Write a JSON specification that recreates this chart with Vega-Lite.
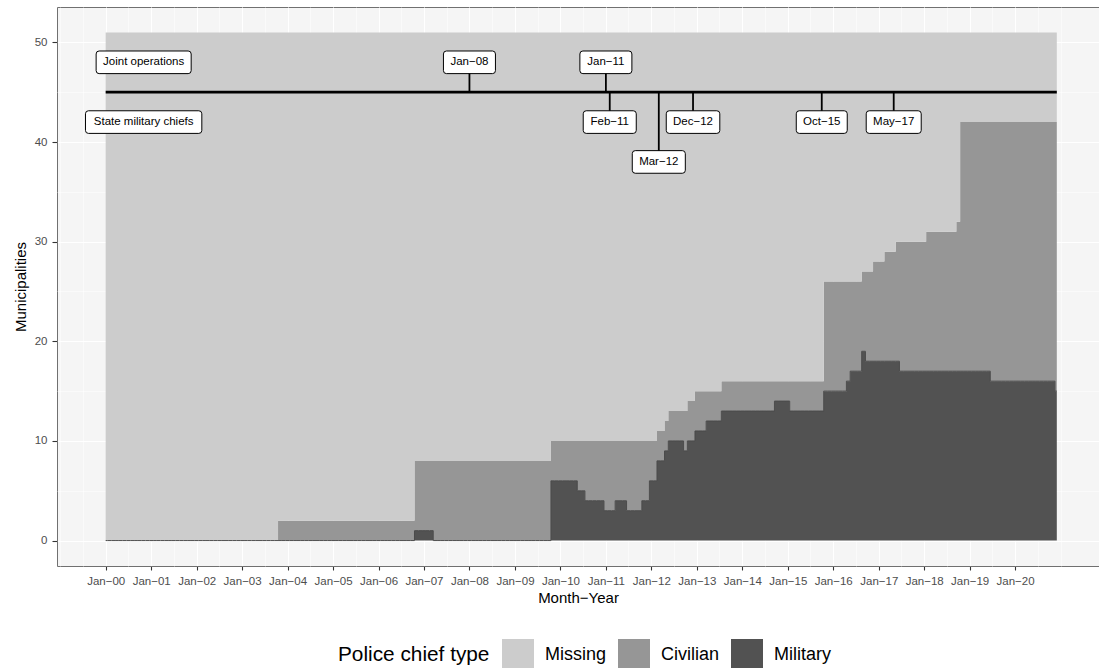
{
  "$schema": "https://vega.github.io/schema/vega-lite/v6.json",
  "width": 1042,
  "height": 559,
  "autosize": {"type": "none"},
  "padding": {"left": 57, "top": 7, "right": 0, "bottom": 102},
  "background": "white",
  "config": {
    "font": "Liberation Sans",
    "view": {"fill": "#F5F5F5", "stroke": "#707070", "strokeWidth": 1}
  },
  "datasets": {
    "chiefs": [
      {"month": "2000-01", "Missing": 51, "Civilian": 0, "Military": 0},
      {"month": "2000-02", "Missing": 51, "Civilian": 0, "Military": 0},
      {"month": "2000-03", "Missing": 51, "Civilian": 0, "Military": 0},
      {"month": "2000-04", "Missing": 51, "Civilian": 0, "Military": 0},
      {"month": "2000-05", "Missing": 51, "Civilian": 0, "Military": 0},
      {"month": "2000-06", "Missing": 51, "Civilian": 0, "Military": 0},
      {"month": "2000-07", "Missing": 51, "Civilian": 0, "Military": 0},
      {"month": "2000-08", "Missing": 51, "Civilian": 0, "Military": 0},
      {"month": "2000-09", "Missing": 51, "Civilian": 0, "Military": 0},
      {"month": "2000-10", "Missing": 51, "Civilian": 0, "Military": 0},
      {"month": "2000-11", "Missing": 51, "Civilian": 0, "Military": 0},
      {"month": "2000-12", "Missing": 51, "Civilian": 0, "Military": 0},
      {"month": "2001-01", "Missing": 51, "Civilian": 0, "Military": 0},
      {"month": "2001-02", "Missing": 51, "Civilian": 0, "Military": 0},
      {"month": "2001-03", "Missing": 51, "Civilian": 0, "Military": 0},
      {"month": "2001-04", "Missing": 51, "Civilian": 0, "Military": 0},
      {"month": "2001-05", "Missing": 51, "Civilian": 0, "Military": 0},
      {"month": "2001-06", "Missing": 51, "Civilian": 0, "Military": 0},
      {"month": "2001-07", "Missing": 51, "Civilian": 0, "Military": 0},
      {"month": "2001-08", "Missing": 51, "Civilian": 0, "Military": 0},
      {"month": "2001-09", "Missing": 51, "Civilian": 0, "Military": 0},
      {"month": "2001-10", "Missing": 51, "Civilian": 0, "Military": 0},
      {"month": "2001-11", "Missing": 51, "Civilian": 0, "Military": 0},
      {"month": "2001-12", "Missing": 51, "Civilian": 0, "Military": 0},
      {"month": "2002-01", "Missing": 51, "Civilian": 0, "Military": 0},
      {"month": "2002-02", "Missing": 51, "Civilian": 0, "Military": 0},
      {"month": "2002-03", "Missing": 51, "Civilian": 0, "Military": 0},
      {"month": "2002-04", "Missing": 51, "Civilian": 0, "Military": 0},
      {"month": "2002-05", "Missing": 51, "Civilian": 0, "Military": 0},
      {"month": "2002-06", "Missing": 51, "Civilian": 0, "Military": 0},
      {"month": "2002-07", "Missing": 51, "Civilian": 0, "Military": 0},
      {"month": "2002-08", "Missing": 51, "Civilian": 0, "Military": 0},
      {"month": "2002-09", "Missing": 51, "Civilian": 0, "Military": 0},
      {"month": "2002-10", "Missing": 51, "Civilian": 0, "Military": 0},
      {"month": "2002-11", "Missing": 51, "Civilian": 0, "Military": 0},
      {"month": "2002-12", "Missing": 51, "Civilian": 0, "Military": 0},
      {"month": "2003-01", "Missing": 51, "Civilian": 0, "Military": 0},
      {"month": "2003-02", "Missing": 51, "Civilian": 0, "Military": 0},
      {"month": "2003-03", "Missing": 51, "Civilian": 0, "Military": 0},
      {"month": "2003-04", "Missing": 51, "Civilian": 0, "Military": 0},
      {"month": "2003-05", "Missing": 51, "Civilian": 0, "Military": 0},
      {"month": "2003-06", "Missing": 51, "Civilian": 0, "Military": 0},
      {"month": "2003-07", "Missing": 51, "Civilian": 0, "Military": 0},
      {"month": "2003-08", "Missing": 51, "Civilian": 0, "Military": 0},
      {"month": "2003-09", "Missing": 51, "Civilian": 0, "Military": 0},
      {"month": "2003-10", "Missing": 51, "Civilian": 0, "Military": 0},
      {"month": "2003-11", "Missing": 49, "Civilian": 2, "Military": 0},
      {"month": "2003-12", "Missing": 49, "Civilian": 2, "Military": 0},
      {"month": "2004-01", "Missing": 49, "Civilian": 2, "Military": 0},
      {"month": "2004-02", "Missing": 49, "Civilian": 2, "Military": 0},
      {"month": "2004-03", "Missing": 49, "Civilian": 2, "Military": 0},
      {"month": "2004-04", "Missing": 49, "Civilian": 2, "Military": 0},
      {"month": "2004-05", "Missing": 49, "Civilian": 2, "Military": 0},
      {"month": "2004-06", "Missing": 49, "Civilian": 2, "Military": 0},
      {"month": "2004-07", "Missing": 49, "Civilian": 2, "Military": 0},
      {"month": "2004-08", "Missing": 49, "Civilian": 2, "Military": 0},
      {"month": "2004-09", "Missing": 49, "Civilian": 2, "Military": 0},
      {"month": "2004-10", "Missing": 49, "Civilian": 2, "Military": 0},
      {"month": "2004-11", "Missing": 49, "Civilian": 2, "Military": 0},
      {"month": "2004-12", "Missing": 49, "Civilian": 2, "Military": 0},
      {"month": "2005-01", "Missing": 49, "Civilian": 2, "Military": 0},
      {"month": "2005-02", "Missing": 49, "Civilian": 2, "Military": 0},
      {"month": "2005-03", "Missing": 49, "Civilian": 2, "Military": 0},
      {"month": "2005-04", "Missing": 49, "Civilian": 2, "Military": 0},
      {"month": "2005-05", "Missing": 49, "Civilian": 2, "Military": 0},
      {"month": "2005-06", "Missing": 49, "Civilian": 2, "Military": 0},
      {"month": "2005-07", "Missing": 49, "Civilian": 2, "Military": 0},
      {"month": "2005-08", "Missing": 49, "Civilian": 2, "Military": 0},
      {"month": "2005-09", "Missing": 49, "Civilian": 2, "Military": 0},
      {"month": "2005-10", "Missing": 49, "Civilian": 2, "Military": 0},
      {"month": "2005-11", "Missing": 49, "Civilian": 2, "Military": 0},
      {"month": "2005-12", "Missing": 49, "Civilian": 2, "Military": 0},
      {"month": "2006-01", "Missing": 49, "Civilian": 2, "Military": 0},
      {"month": "2006-02", "Missing": 49, "Civilian": 2, "Military": 0},
      {"month": "2006-03", "Missing": 49, "Civilian": 2, "Military": 0},
      {"month": "2006-04", "Missing": 49, "Civilian": 2, "Military": 0},
      {"month": "2006-05", "Missing": 49, "Civilian": 2, "Military": 0},
      {"month": "2006-06", "Missing": 49, "Civilian": 2, "Military": 0},
      {"month": "2006-07", "Missing": 49, "Civilian": 2, "Military": 0},
      {"month": "2006-08", "Missing": 49, "Civilian": 2, "Military": 0},
      {"month": "2006-09", "Missing": 49, "Civilian": 2, "Military": 0},
      {"month": "2006-10", "Missing": 49, "Civilian": 2, "Military": 0},
      {"month": "2006-11", "Missing": 43, "Civilian": 7, "Military": 1},
      {"month": "2006-12", "Missing": 43, "Civilian": 7, "Military": 1},
      {"month": "2007-01", "Missing": 43, "Civilian": 7, "Military": 1},
      {"month": "2007-02", "Missing": 43, "Civilian": 7, "Military": 1},
      {"month": "2007-03", "Missing": 43, "Civilian": 7, "Military": 1},
      {"month": "2007-04", "Missing": 43, "Civilian": 8, "Military": 0},
      {"month": "2007-05", "Missing": 43, "Civilian": 8, "Military": 0},
      {"month": "2007-06", "Missing": 43, "Civilian": 8, "Military": 0},
      {"month": "2007-07", "Missing": 43, "Civilian": 8, "Military": 0},
      {"month": "2007-08", "Missing": 43, "Civilian": 8, "Military": 0},
      {"month": "2007-09", "Missing": 43, "Civilian": 8, "Military": 0},
      {"month": "2007-10", "Missing": 43, "Civilian": 8, "Military": 0},
      {"month": "2007-11", "Missing": 43, "Civilian": 8, "Military": 0},
      {"month": "2007-12", "Missing": 43, "Civilian": 8, "Military": 0},
      {"month": "2008-01", "Missing": 43, "Civilian": 8, "Military": 0},
      {"month": "2008-02", "Missing": 43, "Civilian": 8, "Military": 0},
      {"month": "2008-03", "Missing": 43, "Civilian": 8, "Military": 0},
      {"month": "2008-04", "Missing": 43, "Civilian": 8, "Military": 0},
      {"month": "2008-05", "Missing": 43, "Civilian": 8, "Military": 0},
      {"month": "2008-06", "Missing": 43, "Civilian": 8, "Military": 0},
      {"month": "2008-07", "Missing": 43, "Civilian": 8, "Military": 0},
      {"month": "2008-08", "Missing": 43, "Civilian": 8, "Military": 0},
      {"month": "2008-09", "Missing": 43, "Civilian": 8, "Military": 0},
      {"month": "2008-10", "Missing": 43, "Civilian": 8, "Military": 0},
      {"month": "2008-11", "Missing": 43, "Civilian": 8, "Military": 0},
      {"month": "2008-12", "Missing": 43, "Civilian": 8, "Military": 0},
      {"month": "2009-01", "Missing": 43, "Civilian": 8, "Military": 0},
      {"month": "2009-02", "Missing": 43, "Civilian": 8, "Military": 0},
      {"month": "2009-03", "Missing": 43, "Civilian": 8, "Military": 0},
      {"month": "2009-04", "Missing": 43, "Civilian": 8, "Military": 0},
      {"month": "2009-05", "Missing": 43, "Civilian": 8, "Military": 0},
      {"month": "2009-06", "Missing": 43, "Civilian": 8, "Military": 0},
      {"month": "2009-07", "Missing": 43, "Civilian": 8, "Military": 0},
      {"month": "2009-08", "Missing": 43, "Civilian": 8, "Military": 0},
      {"month": "2009-09", "Missing": 43, "Civilian": 8, "Military": 0},
      {"month": "2009-10", "Missing": 43, "Civilian": 8, "Military": 0},
      {"month": "2009-11", "Missing": 41, "Civilian": 4, "Military": 6},
      {"month": "2009-12", "Missing": 41, "Civilian": 4, "Military": 6},
      {"month": "2010-01", "Missing": 41, "Civilian": 4, "Military": 6},
      {"month": "2010-02", "Missing": 41, "Civilian": 4, "Military": 6},
      {"month": "2010-03", "Missing": 41, "Civilian": 4, "Military": 6},
      {"month": "2010-04", "Missing": 41, "Civilian": 4, "Military": 6},
      {"month": "2010-05", "Missing": 41, "Civilian": 4, "Military": 6},
      {"month": "2010-06", "Missing": 41, "Civilian": 5, "Military": 5},
      {"month": "2010-07", "Missing": 41, "Civilian": 5, "Military": 5},
      {"month": "2010-08", "Missing": 41, "Civilian": 6, "Military": 4},
      {"month": "2010-09", "Missing": 41, "Civilian": 6, "Military": 4},
      {"month": "2010-10", "Missing": 41, "Civilian": 6, "Military": 4},
      {"month": "2010-11", "Missing": 41, "Civilian": 6, "Military": 4},
      {"month": "2010-12", "Missing": 41, "Civilian": 6, "Military": 4},
      {"month": "2011-01", "Missing": 41, "Civilian": 7, "Military": 3},
      {"month": "2011-02", "Missing": 41, "Civilian": 7, "Military": 3},
      {"month": "2011-03", "Missing": 41, "Civilian": 7, "Military": 3},
      {"month": "2011-04", "Missing": 41, "Civilian": 6, "Military": 4},
      {"month": "2011-05", "Missing": 41, "Civilian": 6, "Military": 4},
      {"month": "2011-06", "Missing": 41, "Civilian": 6, "Military": 4},
      {"month": "2011-07", "Missing": 41, "Civilian": 7, "Military": 3},
      {"month": "2011-08", "Missing": 41, "Civilian": 7, "Military": 3},
      {"month": "2011-09", "Missing": 41, "Civilian": 7, "Military": 3},
      {"month": "2011-10", "Missing": 41, "Civilian": 7, "Military": 3},
      {"month": "2011-11", "Missing": 41, "Civilian": 6, "Military": 4},
      {"month": "2011-12", "Missing": 41, "Civilian": 6, "Military": 4},
      {"month": "2012-01", "Missing": 41, "Civilian": 4, "Military": 6},
      {"month": "2012-02", "Missing": 41, "Civilian": 4, "Military": 6},
      {"month": "2012-03", "Missing": 40, "Civilian": 3, "Military": 8},
      {"month": "2012-04", "Missing": 40, "Civilian": 3, "Military": 8},
      {"month": "2012-05", "Missing": 39, "Civilian": 3, "Military": 9},
      {"month": "2012-06", "Missing": 38, "Civilian": 3, "Military": 10},
      {"month": "2012-07", "Missing": 38, "Civilian": 3, "Military": 10},
      {"month": "2012-08", "Missing": 38, "Civilian": 3, "Military": 10},
      {"month": "2012-09", "Missing": 38, "Civilian": 3, "Military": 10},
      {"month": "2012-10", "Missing": 38, "Civilian": 4, "Military": 9},
      {"month": "2012-11", "Missing": 37, "Civilian": 4, "Military": 10},
      {"month": "2012-12", "Missing": 37, "Civilian": 4, "Military": 10},
      {"month": "2013-01", "Missing": 36, "Civilian": 4, "Military": 11},
      {"month": "2013-02", "Missing": 36, "Civilian": 4, "Military": 11},
      {"month": "2013-03", "Missing": 36, "Civilian": 4, "Military": 11},
      {"month": "2013-04", "Missing": 36, "Civilian": 3, "Military": 12},
      {"month": "2013-05", "Missing": 36, "Civilian": 3, "Military": 12},
      {"month": "2013-06", "Missing": 36, "Civilian": 3, "Military": 12},
      {"month": "2013-07", "Missing": 36, "Civilian": 3, "Military": 12},
      {"month": "2013-08", "Missing": 35, "Civilian": 3, "Military": 13},
      {"month": "2013-09", "Missing": 35, "Civilian": 3, "Military": 13},
      {"month": "2013-10", "Missing": 35, "Civilian": 3, "Military": 13},
      {"month": "2013-11", "Missing": 35, "Civilian": 3, "Military": 13},
      {"month": "2013-12", "Missing": 35, "Civilian": 3, "Military": 13},
      {"month": "2014-01", "Missing": 35, "Civilian": 3, "Military": 13},
      {"month": "2014-02", "Missing": 35, "Civilian": 3, "Military": 13},
      {"month": "2014-03", "Missing": 35, "Civilian": 3, "Military": 13},
      {"month": "2014-04", "Missing": 35, "Civilian": 3, "Military": 13},
      {"month": "2014-05", "Missing": 35, "Civilian": 3, "Military": 13},
      {"month": "2014-06", "Missing": 35, "Civilian": 3, "Military": 13},
      {"month": "2014-07", "Missing": 35, "Civilian": 3, "Military": 13},
      {"month": "2014-08", "Missing": 35, "Civilian": 3, "Military": 13},
      {"month": "2014-09", "Missing": 35, "Civilian": 3, "Military": 13},
      {"month": "2014-10", "Missing": 35, "Civilian": 2, "Military": 14},
      {"month": "2014-11", "Missing": 35, "Civilian": 2, "Military": 14},
      {"month": "2014-12", "Missing": 35, "Civilian": 2, "Military": 14},
      {"month": "2015-01", "Missing": 35, "Civilian": 2, "Military": 14},
      {"month": "2015-02", "Missing": 35, "Civilian": 3, "Military": 13},
      {"month": "2015-03", "Missing": 35, "Civilian": 3, "Military": 13},
      {"month": "2015-04", "Missing": 35, "Civilian": 3, "Military": 13},
      {"month": "2015-05", "Missing": 35, "Civilian": 3, "Military": 13},
      {"month": "2015-06", "Missing": 35, "Civilian": 3, "Military": 13},
      {"month": "2015-07", "Missing": 35, "Civilian": 3, "Military": 13},
      {"month": "2015-08", "Missing": 35, "Civilian": 3, "Military": 13},
      {"month": "2015-09", "Missing": 35, "Civilian": 3, "Military": 13},
      {"month": "2015-10", "Missing": 35, "Civilian": 3, "Military": 13},
      {"month": "2015-11", "Missing": 25, "Civilian": 11, "Military": 15},
      {"month": "2015-12", "Missing": 25, "Civilian": 11, "Military": 15},
      {"month": "2016-01", "Missing": 25, "Civilian": 11, "Military": 15},
      {"month": "2016-02", "Missing": 25, "Civilian": 11, "Military": 15},
      {"month": "2016-03", "Missing": 25, "Civilian": 11, "Military": 15},
      {"month": "2016-04", "Missing": 25, "Civilian": 11, "Military": 15},
      {"month": "2016-05", "Missing": 25, "Civilian": 10, "Military": 16},
      {"month": "2016-06", "Missing": 25, "Civilian": 9, "Military": 17},
      {"month": "2016-07", "Missing": 25, "Civilian": 9, "Military": 17},
      {"month": "2016-08", "Missing": 25, "Civilian": 9, "Military": 17},
      {"month": "2016-09", "Missing": 24, "Civilian": 8, "Military": 19},
      {"month": "2016-10", "Missing": 24, "Civilian": 9, "Military": 18},
      {"month": "2016-11", "Missing": 24, "Civilian": 9, "Military": 18},
      {"month": "2016-12", "Missing": 23, "Civilian": 10, "Military": 18},
      {"month": "2017-01", "Missing": 23, "Civilian": 10, "Military": 18},
      {"month": "2017-02", "Missing": 23, "Civilian": 10, "Military": 18},
      {"month": "2017-03", "Missing": 22, "Civilian": 11, "Military": 18},
      {"month": "2017-04", "Missing": 22, "Civilian": 11, "Military": 18},
      {"month": "2017-05", "Missing": 22, "Civilian": 11, "Military": 18},
      {"month": "2017-06", "Missing": 21, "Civilian": 12, "Military": 18},
      {"month": "2017-07", "Missing": 21, "Civilian": 13, "Military": 17},
      {"month": "2017-08", "Missing": 21, "Civilian": 13, "Military": 17},
      {"month": "2017-09", "Missing": 21, "Civilian": 13, "Military": 17},
      {"month": "2017-10", "Missing": 21, "Civilian": 13, "Military": 17},
      {"month": "2017-11", "Missing": 21, "Civilian": 13, "Military": 17},
      {"month": "2017-12", "Missing": 21, "Civilian": 13, "Military": 17},
      {"month": "2018-01", "Missing": 21, "Civilian": 13, "Military": 17},
      {"month": "2018-02", "Missing": 20, "Civilian": 14, "Military": 17},
      {"month": "2018-03", "Missing": 20, "Civilian": 14, "Military": 17},
      {"month": "2018-04", "Missing": 20, "Civilian": 14, "Military": 17},
      {"month": "2018-05", "Missing": 20, "Civilian": 14, "Military": 17},
      {"month": "2018-06", "Missing": 20, "Civilian": 14, "Military": 17},
      {"month": "2018-07", "Missing": 20, "Civilian": 14, "Military": 17},
      {"month": "2018-08", "Missing": 20, "Civilian": 14, "Military": 17},
      {"month": "2018-09", "Missing": 20, "Civilian": 14, "Military": 17},
      {"month": "2018-10", "Missing": 19, "Civilian": 15, "Military": 17},
      {"month": "2018-11", "Missing": 9, "Civilian": 25, "Military": 17},
      {"month": "2018-12", "Missing": 9, "Civilian": 25, "Military": 17},
      {"month": "2019-01", "Missing": 9, "Civilian": 25, "Military": 17},
      {"month": "2019-02", "Missing": 9, "Civilian": 25, "Military": 17},
      {"month": "2019-03", "Missing": 9, "Civilian": 25, "Military": 17},
      {"month": "2019-04", "Missing": 9, "Civilian": 25, "Military": 17},
      {"month": "2019-05", "Missing": 9, "Civilian": 25, "Military": 17},
      {"month": "2019-06", "Missing": 9, "Civilian": 25, "Military": 17},
      {"month": "2019-07", "Missing": 9, "Civilian": 26, "Military": 16},
      {"month": "2019-08", "Missing": 9, "Civilian": 26, "Military": 16},
      {"month": "2019-09", "Missing": 9, "Civilian": 26, "Military": 16},
      {"month": "2019-10", "Missing": 9, "Civilian": 26, "Military": 16},
      {"month": "2019-11", "Missing": 9, "Civilian": 26, "Military": 16},
      {"month": "2019-12", "Missing": 9, "Civilian": 26, "Military": 16},
      {"month": "2020-01", "Missing": 9, "Civilian": 26, "Military": 16},
      {"month": "2020-02", "Missing": 9, "Civilian": 26, "Military": 16},
      {"month": "2020-03", "Missing": 9, "Civilian": 26, "Military": 16},
      {"month": "2020-04", "Missing": 9, "Civilian": 26, "Military": 16},
      {"month": "2020-05", "Missing": 9, "Civilian": 26, "Military": 16},
      {"month": "2020-06", "Missing": 9, "Civilian": 26, "Military": 16},
      {"month": "2020-07", "Missing": 9, "Civilian": 26, "Military": 16},
      {"month": "2020-08", "Missing": 9, "Civilian": 26, "Military": 16},
      {"month": "2020-09", "Missing": 9, "Civilian": 26, "Military": 16},
      {"month": "2020-10", "Missing": 9, "Civilian": 26, "Military": 16},
      {"month": "2020-11", "Missing": 9, "Civilian": 26, "Military": 16},
      {"month": "2020-12", "Missing": 9, "Civilian": 27, "Military": 15}
    ],
    "events": [
      {"date": "2000-11", "label": "Joint operations", "level": 48, "kind": "period"},
      {"date": "2000-11", "label": "State military chiefs", "level": 42, "kind": "period"},
      {"date": "2008-01", "label": "Jan−08", "level": 48, "kind": "event"},
      {"date": "2011-01", "label": "Jan−11", "level": 48, "kind": "event"},
      {"date": "2011-02", "label": "Feb−11", "level": 42, "kind": "event"},
      {"date": "2012-03", "label": "Mar−12", "level": 38, "kind": "event"},
      {"date": "2012-12", "label": "Dec−12", "level": 42, "kind": "event"},
      {"date": "2015-10", "label": "Oct−15", "level": 42, "kind": "event"},
      {"date": "2017-05", "label": "May−17", "level": 42, "kind": "event"}
    ],
    "timeline": [
      {"from": "2000-01", "to": "2020-12"}
    ]
  },
  "resolve": {"axis": {"x": "independent", "y": "independent"}},
  "layer": [
    {
      "data": {"name": "chiefs"},
      "transform": [
        {"fold": ["Military", "Civilian", "Missing"], "as": ["type", "count"]},
        {"calculate": "indexof(['Military', 'Civilian', 'Missing'], datum.type)", "as": "stackOrder"}
      ],
      "mark": {"type": "area", "interpolate": "step"},
      "encoding": {
        "x": {
          "field": "month",
          "type": "temporal",
          "scale": {
            "type": "utc",
            "domain": [
              {"year": 1998, "month": 12, "date": 6, "utc": true},
              {"year": 2021, "month": 11, "date": 5, "utc": true}
            ]
          },
          "axis": {
            "title": "Month−Year",
            "format": "%b−%y",
            "values": [
              {"year": 2000, "month": 1, "date": 1, "utc": true},
              {"year": 2001, "month": 1, "date": 1, "utc": true},
              {"year": 2002, "month": 1, "date": 1, "utc": true},
              {"year": 2003, "month": 1, "date": 1, "utc": true},
              {"year": 2004, "month": 1, "date": 1, "utc": true},
              {"year": 2005, "month": 1, "date": 1, "utc": true},
              {"year": 2006, "month": 1, "date": 1, "utc": true},
              {"year": 2007, "month": 1, "date": 1, "utc": true},
              {"year": 2008, "month": 1, "date": 1, "utc": true},
              {"year": 2009, "month": 1, "date": 1, "utc": true},
              {"year": 2010, "month": 1, "date": 1, "utc": true},
              {"year": 2011, "month": 1, "date": 1, "utc": true},
              {"year": 2012, "month": 1, "date": 1, "utc": true},
              {"year": 2013, "month": 1, "date": 1, "utc": true},
              {"year": 2014, "month": 1, "date": 1, "utc": true},
              {"year": 2015, "month": 1, "date": 1, "utc": true},
              {"year": 2016, "month": 1, "date": 1, "utc": true},
              {"year": 2017, "month": 1, "date": 1, "utc": true},
              {"year": 2018, "month": 1, "date": 1, "utc": true},
              {"year": 2019, "month": 1, "date": 1, "utc": true},
              {"year": 2020, "month": 1, "date": 1, "utc": true}
            ],
            "labelFontSize": 11.5,
            "labelColor": "#4D4D4D",
            "labelPadding": 5,
            "labelFlush": false,
            "labelOverlap": false,
            "tickColor": "#333333",
            "tickSize": 4,
            "tickWidth": 1.1,
            "domain": false,
            "grid": true,
            "gridColor": "white",
            "gridWidth": 1.1,
            "titleFontSize": 15,
            "titleFontWeight": "normal",
            "titleColor": "black",
            "titlePadding": 4
          }
        },
        "y": {
          "field": "count",
          "type": "quantitative",
          "stack": "zero",
          "scale": {"domain": [-2.55, 53.55], "nice": false, "zero": false},
          "axis": {
            "title": "Municipalities",
            "values": [0, 10, 20, 30, 40, 50],
            "labelFontSize": 11.5,
            "labelColor": "#4D4D4D",
            "labelPadding": 5,
            "tickColor": "#333333",
            "tickSize": 5,
            "tickWidth": 1.1,
            "domain": false,
            "grid": true,
            "gridColor": "white",
            "gridWidth": 1.1,
            "titleFontSize": 15,
            "titleFontWeight": "normal",
            "titleColor": "black",
            "titlePadding": 6
          }
        },
        "color": {
          "field": "type",
          "type": "nominal",
          "scale": {
            "domain": ["Missing", "Civilian", "Military"],
            "range": ["#CCCCCC", "#969696", "#525252"]
          },
          "legend": {
            "title": "Police chief type",
            "orient": "none",
            "legendX": 281,
            "legendY": 632,
            "direction": "horizontal",
            "padding": 0,
            "titleOrient": "left",
            "titleAnchor": "middle",
            "titleBaseline": "middle",
            "titleFontSize": 20.8,
            "titleFontWeight": "normal",
            "titleColor": "black",
            "titlePadding": 12,
            "labelFontSize": 18,
            "labelColor": "black",
            "labelOffset": 11,
            "columnPadding": 11,
            "symbolType": "square",
            "symbolSize": 1024,
            "symbolStrokeWidth": 0,
            "symbolOpacity": 1
          }
        },
        "order": {"field": "stackOrder", "type": "quantitative"}
      }
    },
    {
      "data": {"name": "chiefs"},
      "mark": {"type": "line", "interpolate": "step", "color": "#4A4A4A", "strokeWidth": 1},
      "encoding": {
        "x": {"field": "month", "type": "temporal", "axis": null},
        "y": {"field": "Military", "type": "quantitative", "axis": null}
      }
    },
    {
      "data": {"name": "timeline"},
      "mark": {"type": "rule", "color": "black", "strokeWidth": 2.8, "strokeCap": "butt"},
      "encoding": {
        "x": {"field": "from", "type": "temporal", "axis": null},
        "x2": {"field": "to"},
        "y": {"datum": 45, "type": "quantitative", "axis": null}
      }
    },
    {
      "data": {"name": "events"},
      "transform": [{"filter": "datum.kind === 'event'"}],
      "mark": {"type": "rule", "color": "black", "strokeWidth": 1.8, "strokeCap": "butt"},
      "encoding": {
        "x": {
          "field": "date",
          "type": "temporal",
          "axis": {
            "orient": "bottom",
            "title": null,
            "labels": false,
            "ticks": false,
            "domain": false,
            "grid": true,
            "gridColor": "white",
            "gridWidth": 0.55,
            "values": [
              {"year": 1999, "month": 1, "date": 1, "utc": true},
              {"year": 1999, "month": 7, "date": 1, "utc": true},
              {"year": 2000, "month": 7, "date": 1, "utc": true},
              {"year": 2001, "month": 7, "date": 1, "utc": true},
              {"year": 2002, "month": 7, "date": 1, "utc": true},
              {"year": 2003, "month": 7, "date": 1, "utc": true},
              {"year": 2004, "month": 7, "date": 1, "utc": true},
              {"year": 2005, "month": 7, "date": 1, "utc": true},
              {"year": 2006, "month": 7, "date": 1, "utc": true},
              {"year": 2007, "month": 7, "date": 1, "utc": true},
              {"year": 2008, "month": 7, "date": 1, "utc": true},
              {"year": 2009, "month": 7, "date": 1, "utc": true},
              {"year": 2010, "month": 7, "date": 1, "utc": true},
              {"year": 2011, "month": 7, "date": 1, "utc": true},
              {"year": 2012, "month": 7, "date": 1, "utc": true},
              {"year": 2013, "month": 7, "date": 1, "utc": true},
              {"year": 2014, "month": 7, "date": 1, "utc": true},
              {"year": 2015, "month": 7, "date": 1, "utc": true},
              {"year": 2016, "month": 7, "date": 1, "utc": true},
              {"year": 2017, "month": 7, "date": 1, "utc": true},
              {"year": 2018, "month": 7, "date": 1, "utc": true},
              {"year": 2019, "month": 7, "date": 1, "utc": true},
              {"year": 2020, "month": 7, "date": 1, "utc": true},
              {"year": 2021, "month": 1, "date": 1, "utc": true}
            ]
          }
        },
        "y": {
          "field": "level",
          "type": "quantitative",
          "axis": {
            "orient": "left",
            "title": null,
            "labels": false,
            "ticks": false,
            "domain": false,
            "grid": true,
            "gridColor": "white",
            "gridWidth": 0.55,
            "values": [5, 15, 25, 35, 45]
          }
        },
        "y2": {"datum": 45}
      }
    },
    {
      "data": {"name": "events"},
      "mark": {"type": "point", "filled": true, "fill": "white", "stroke": "black", "strokeWidth": 1, "size": 16900, "opacity": 1},
      "encoding": {
        "x": {"field": "date", "type": "temporal", "axis": null},
        "y": {"field": "level", "type": "quantitative", "axis": null},
        "shape": {
          "field": "label",
          "type": "nominal",
          "legend": null,
          "scale": {
            "domain": ["Joint operations", "State military chiefs", "Jan−08", "Jan−11", "Feb−11", "Mar−12", "Dec−12", "Oct−15", "May−17"],
            "range": [
              "M -0.685 -0.174 L 0.685 -0.174 Q 0.731 -0.174 0.731 -0.128 L 0.731 0.128 Q 0.731 0.174 0.685 0.174 L -0.685 0.174 Q -0.731 0.174 -0.731 0.128 L -0.731 -0.128 Q -0.731 -0.174 -0.685 -0.174 Z",
              "M -0.849 -0.174 L 0.849 -0.174 Q 0.895 -0.174 0.895 -0.128 L 0.895 0.128 Q 0.895 0.174 0.849 0.174 L -0.849 0.174 Q -0.895 0.174 -0.895 0.128 L -0.895 -0.128 Q -0.895 -0.174 -0.849 -0.174 Z",
              "M -0.354 -0.174 L 0.354 -0.174 Q 0.4 -0.174 0.4 -0.128 L 0.4 0.128 Q 0.4 0.174 0.354 0.174 L -0.354 0.174 Q -0.4 0.174 -0.4 0.128 L -0.4 -0.128 Q -0.4 -0.174 -0.354 -0.174 Z",
              "M -0.354 -0.174 L 0.354 -0.174 Q 0.4 -0.174 0.4 -0.128 L 0.4 0.128 Q 0.4 0.174 0.354 0.174 L -0.354 0.174 Q -0.4 0.174 -0.4 0.128 L -0.4 -0.128 Q -0.4 -0.174 -0.354 -0.174 Z",
              "M -0.362 -0.174 L 0.362 -0.174 Q 0.408 -0.174 0.408 -0.128 L 0.408 0.128 Q 0.408 0.174 0.362 0.174 L -0.362 0.174 Q -0.408 0.174 -0.408 0.128 L -0.408 -0.128 Q -0.408 -0.174 -0.362 -0.174 Z",
              "M -0.362 -0.174 L 0.362 -0.174 Q 0.408 -0.174 0.408 -0.128 L 0.408 0.128 Q 0.408 0.174 0.362 0.174 L -0.362 0.174 Q -0.408 0.174 -0.408 0.128 L -0.408 -0.128 Q -0.408 -0.174 -0.362 -0.174 Z",
              "M -0.366 -0.174 L 0.366 -0.174 Q 0.412 -0.174 0.412 -0.128 L 0.412 0.128 Q 0.412 0.174 0.366 0.174 L -0.366 0.174 Q -0.412 0.174 -0.412 0.128 L -0.412 -0.128 Q -0.412 -0.174 -0.366 -0.174 Z",
              "M -0.346 -0.174 L 0.346 -0.174 Q 0.392 -0.174 0.392 -0.128 L 0.392 0.128 Q 0.392 0.174 0.346 0.174 L -0.346 0.174 Q -0.392 0.174 -0.392 0.128 L -0.392 -0.128 Q -0.392 -0.174 -0.346 -0.174 Z",
              "M -0.377 -0.174 L 0.377 -0.174 Q 0.423 -0.174 0.423 -0.128 L 0.423 0.128 Q 0.423 0.174 0.377 0.174 L -0.377 0.174 Q -0.423 0.174 -0.423 0.128 L -0.423 -0.128 Q -0.423 -0.174 -0.377 -0.174 Z"
            ]
          }
        }
      }
    },
    {
      "data": {"name": "events"},
      "mark": {"type": "text", "fontSize": 11.5, "color": "black", "align": "center", "baseline": "middle"},
      "encoding": {
        "x": {"field": "date", "type": "temporal", "axis": null},
        "y": {"field": "level", "type": "quantitative", "axis": null},
        "text": {"field": "label", "type": "nominal"}
      }
    }
  ]
}
